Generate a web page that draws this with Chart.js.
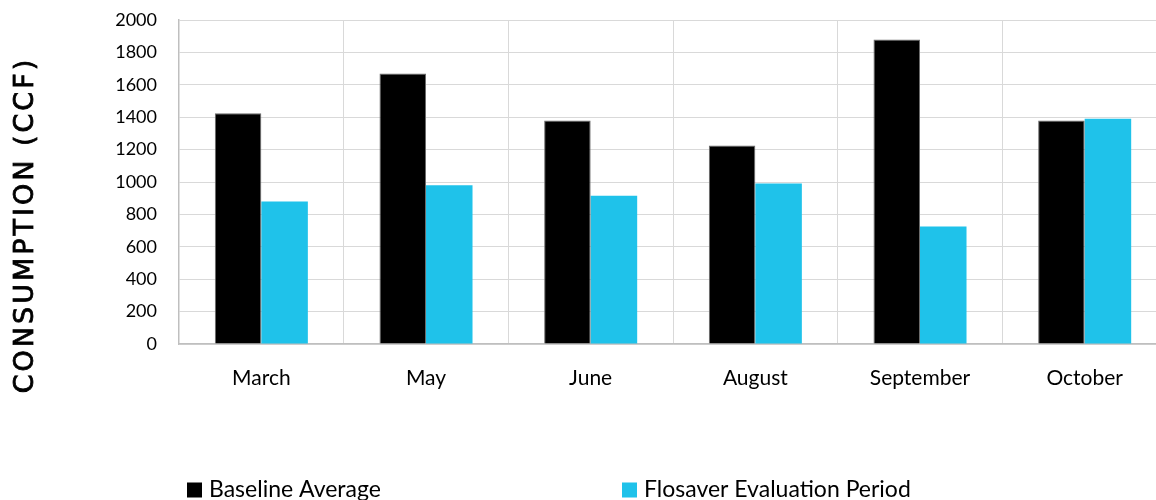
<!DOCTYPE html>
<html>
<head>
<meta charset="utf-8">
<script src="https://cdn.jsdelivr.net/npm/chart.js@4/dist/chart.umd.min.js"></script>
<style>
  html, body { margin: 0; padding: 0; background: #fff; overflow: hidden; }
  #wrap { width: 1170px; height: 510px; }
</style>
</head>
<body>
<div id="wrap"><canvas id="consumption-chart" width="1170" height="510"></canvas></div>
<script>
'use strict';

var months = ['March', 'May', 'June', 'August', 'September', 'October'];
var baselineAverage = [1425, 1670, 1380, 1225, 1880, 1380];
var evaluationPeriod = [880, 980, 915, 990, 725, 1390];
var seriesNames = ['Baseline Average', 'Flosaver Evaluation Period'];
var axisTitle = 'CONSUMPTION (CCF)';

var gridColor = '#d9d9d9';
var axisColor = '#bfbfbf';

// y axis title, drawn spaced out like the original
var axisTitlePlugin = {
	id: 'axisTitle',
	afterDraw: function(chart) {
		var ctx = chart.ctx;
		ctx.save();
		ctx.translate(33, 225);
		ctx.rotate(-Math.PI / 2);
		ctx.font = '27px "DejaVu Sans"';
		ctx.letterSpacing = '3px';
		ctx.fillStyle = '#000';
		ctx.strokeStyle = '#000';
		ctx.lineWidth = 0.8;
		ctx.textAlign = 'center';
		ctx.textBaseline = 'alphabetic';
		ctx.fillText(axisTitle, 0, 0);
		ctx.strokeText(axisTitle, 0, 0);
		ctx.restore();
	}
};

// legend at the bottom, items placed where the original has them
var bottomLegendPlugin = {
	id: 'bottomLegend',
	afterDraw: function(chart) {
		var ctx = chart.ctx;
		var spots = [187, 622];
		ctx.save();
		ctx.font = '23px Lato';
		ctx.textBaseline = 'alphabetic';
		ctx.textAlign = 'left';
		chart.data.datasets.forEach(function(ds, i) {
			ctx.fillStyle = ds.backgroundColor;
			ctx.fillRect(spots[i], 482.5, 15, 15);
			ctx.fillStyle = '#000';
			ctx.fillText(ds.label, spots[i] + 22, 497);
		});
		ctx.restore();
	}
};

var config = {
	type: 'bar',
	data: {
		labels: months,
		datasets: [{
			label: seriesNames[0],
			data: baselineAverage,
			backgroundColor: '#000000',
			borderColor: '#6b6b6b',
			borderWidth: 1
		}, {
			label: seriesNames[1],
			data: evaluationPeriod,
			backgroundColor: '#1fc2ea',
			borderWidth: 0
		}]
	},
	options: {
		responsive: false,
		animation: false,
		layout: {
			padding: { top: 20, right: 3, bottom: 116, left: 0 }
		},
		datasets: {
			bar: { categoryPercentage: 0.565, barPercentage: 1.0 }
		},
		plugins: {
			legend: { display: false },
			tooltip: { enabled: false }
		},
		scales: {
			x: {
				grid: { color: gridColor, lineWidth: 1, drawTicks: false, offset: true },
				border: { color: axisColor, width: 1.5 },
				ticks: {
					color: '#000',
					padding: 22,
					font: { family: 'Lato', size: 21 }
				},
				afterFit: function(scale) { scale.height = 50; }
			},
			y: {
				min: 0,
				max: 2000,
				grid: { color: gridColor, lineWidth: 1, drawTicks: false },
				border: { color: axisColor, width: 1.5 },
				ticks: {
					stepSize: 200,
					color: '#000',
					padding: 22,
					font: { family: 'Lato', size: 18 },
					callback: function(value) { return String(value); }
				},
				afterFit: function(scale) {
					scale.width = 179;
					scale.paddingTop = 0;
					scale.paddingBottom = 0;
				}
			}
		}
	},
	plugins: [axisTitlePlugin, bottomLegendPlugin]
};

var chartCtx = document.getElementById('consumption-chart').getContext('2d');
var consumptionChart = new Chart(chartCtx, config);
</script>
</body>
</html>
